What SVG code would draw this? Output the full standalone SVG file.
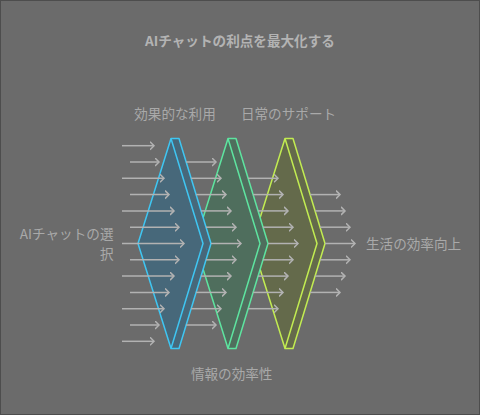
<svg xmlns="http://www.w3.org/2000/svg" width="480" height="415" viewBox="0 0 480 415">
  <defs>
    <marker id="ah" markerUnits="userSpaceOnUse" markerWidth="8" markerHeight="10" refX="4.5" refY="4.5" orient="auto" viewBox="0 0 8 10">
      <path d="M0.5,0.5 L4.5,4.5 L0.5,8.5" fill="none" stroke="#b2b2b2" stroke-width="1.5"/>
    </marker>
  </defs>
  <style>
    .bg { fill: #6b6b6b; stroke: #4d4d4d; stroke-width: 1; }
    .lbl { font-family: "Noto Sans CJK JP", "Noto Sans", sans-serif; font-size: 13.6px; fill: #a9a9a9; }
    .title { font-family: "Noto Sans CJK JP", "Noto Sans", sans-serif; font-size: 13.6px; font-weight: bold; fill: #b3b3b3; }
    .arr { stroke: #b2b2b2; stroke-width: 1.5; fill: none; marker-end: url(#ah); }
    .edge { fill: none; stroke-width: 1.5; stroke-linejoin: round; }
    .c1 .body { fill: #47687a; stroke: #3fc6f2; }
    .c1 .edge { stroke: #3fc6f2; }
    .c2 .body { fill: #4f6e5d; stroke: #5ee4a0; }
    .c2 .edge { stroke: #5ee4a0; }
    .c3 .body { fill: #646a4b; stroke: #c2ec52; }
    .c3 .edge { stroke: #c2ec52; }
    .body { stroke-width: 1.5; stroke-linejoin: round; }
  </style>
  <rect class="bg" x="0.5" y="0.5" width="479" height="414"/>
  <text class="title" x="240" y="45.5" text-anchor="middle">AIチャットの利点を最大化する</text>

  <g id="stage3" class="c3">
    <path class="body" d="M285,138.5 L293,138.5 L325,243.5 L293,348.5 L285,348.5 L252,243.5 Z"/>
    <path class="edge" d="M285,138.5 L317,243.5 L285,348.5"/>
  </g>
  <g id="stage2" class="c2">
    <path class="body" d="M228,138.5 L236,138.5 L268,243.5 L236,348.5 L228,348.5 L195,243.5 Z"/>
    <path class="edge" d="M228,138.5 L260,243.5 L228,348.5"/>
  </g>
  <g id="stage1" class="c1">
    <path class="body" d="M171,138.5 L179,138.5 L211,243.5 L179,348.5 L171,348.5 L138,243.5 Z"/>
    <path class="edge" d="M171,138.5 L203,243.5 L171,348.5"/>
  </g>

  <g id="connectors">
    <path class="arr" d="M122,145.7 H154"/>
    <path class="arr" d="M130,162 H159"/>
    <path class="arr" d="M122,178.3 H164"/>
    <path class="arr" d="M130,194.6 H169"/>
    <path class="arr" d="M122,210.9 H174"/>
    <path class="arr" d="M130,227.2 H179"/>
    <path class="arr" d="M122,243.5 H184"/>
    <path class="arr" d="M130,259.8 H179"/>
    <path class="arr" d="M122,276.1 H174"/>
    <path class="arr" d="M130,292.4 H169"/>
    <path class="arr" d="M122,308.7 H164"/>
    <path class="arr" d="M130,325 H159"/>
    <path class="arr" d="M122,341.3 H154"/>

    <path class="arr" d="M186.2,162 H216"/>
    <path class="arr" d="M191.1,178.3 H221"/>
    <path class="arr" d="M196.1,194.6 H226"/>
    <path class="arr" d="M201.1,210.9 H231"/>
    <path class="arr" d="M206,227.2 H236"/>
    <path class="arr" d="M211,243.5 H241"/>
    <path class="arr" d="M206,259.8 H236"/>
    <path class="arr" d="M201.1,276.1 H231"/>
    <path class="arr" d="M196.1,292.4 H226"/>
    <path class="arr" d="M191.1,308.7 H221"/>
    <path class="arr" d="M186.2,325 H216"/>

    <path class="arr" d="M248.1,178.3 H278"/>
    <path class="arr" d="M253.1,194.6 H283"/>
    <path class="arr" d="M258.1,210.9 H288"/>
    <path class="arr" d="M263,227.2 H293"/>
    <path class="arr" d="M268,243.5 H298"/>
    <path class="arr" d="M263,259.8 H293"/>
    <path class="arr" d="M258.1,276.1 H288"/>
    <path class="arr" d="M253.1,292.4 H283"/>
    <path class="arr" d="M248.1,308.7 H278"/>

    <path class="arr" d="M310.1,194.6 H340"/>
    <path class="arr" d="M315.1,210.9 H345"/>
    <path class="arr" d="M320,227.2 H350"/>
    <path class="arr" d="M325,243.5 H355"/>
    <path class="arr" d="M320,259.8 H350"/>
    <path class="arr" d="M315.1,276.1 H345"/>
    <path class="arr" d="M310.1,292.4 H340"/>
  </g>

  <g id="label-input">
    <text class="lbl" text-anchor="end"><tspan x="113.5" y="239">AIチャットの選</tspan><tspan x="113.5" y="258.8">択</tspan></text>
  </g>
  <g id="label-use">
    <text class="lbl" x="175" y="119.3" text-anchor="middle">効果的な利用</text>
  </g>
  <g id="label-info">
    <text class="lbl" x="231.7" y="379" text-anchor="middle">情報の効率性</text>
  </g>
  <g id="label-support">
    <text class="lbl" x="288.5" y="119.3" text-anchor="middle">日常のサポート</text>
  </g>
  <g id="label-output">
    <text class="lbl" x="366" y="249" text-anchor="start">生活の効率向上</text>
  </g>
</svg>
